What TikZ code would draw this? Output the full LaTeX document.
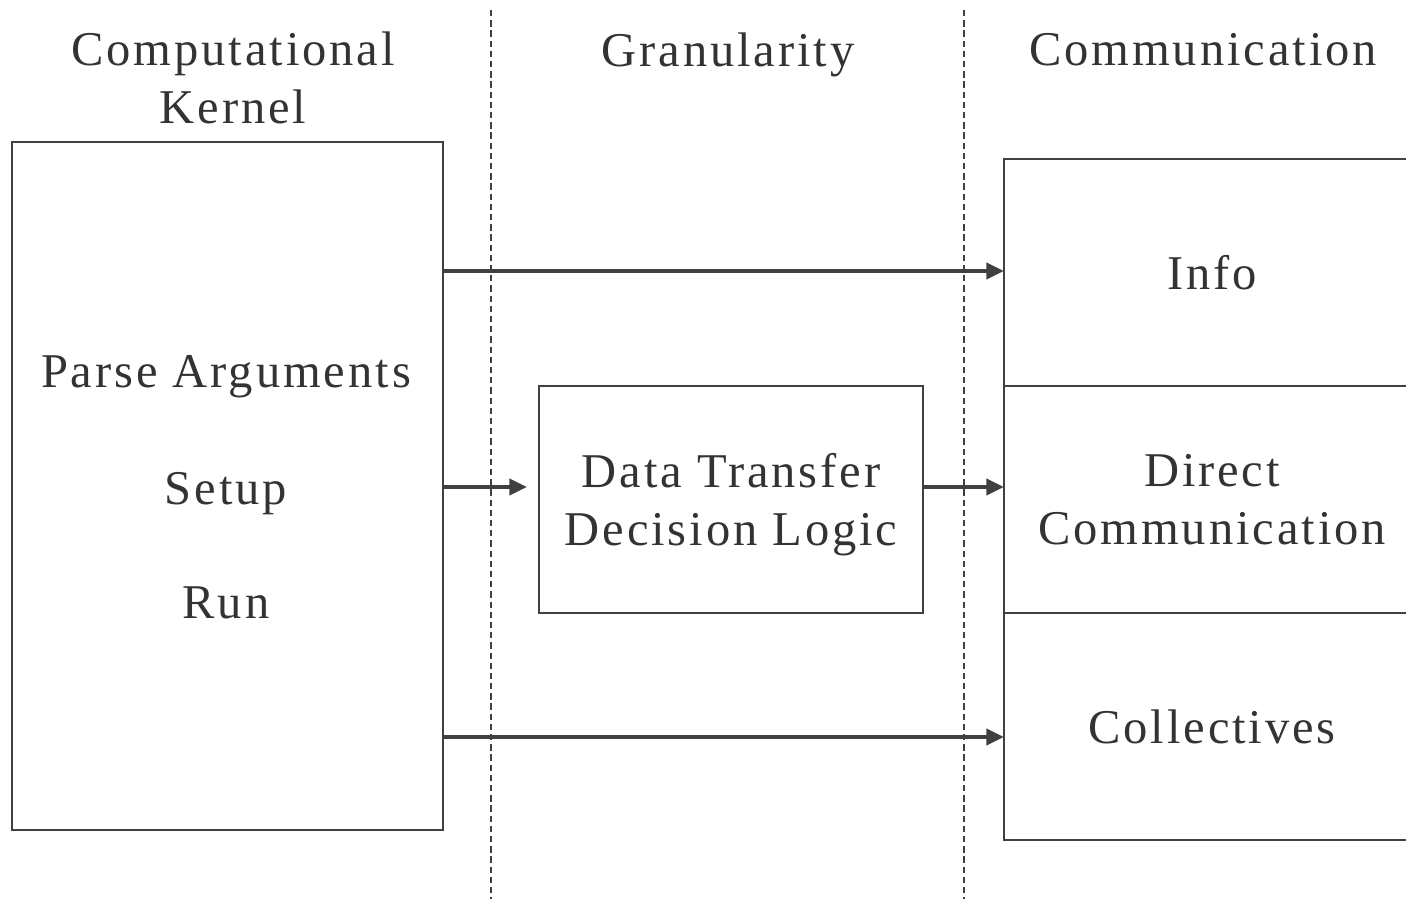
\documentclass[tikz,border=0pt]{standalone}
\usepackage{fontspec}
\setmainfont{Liberation Serif}[LetterSpace=6]
\usetikzlibrary{positioning,calc,arrows.meta}
\definecolor{ink}{HTML}{404040}
\definecolor{txt}{HTML}{333333}
\tikzset{
  box/.style={draw=ink, line width=0.6pt, text=txt, align=center, inner sep=0pt, outer sep=0pt},
  lbl/.style={text=txt, align=center, inner sep=0pt},
  arr/.style={draw=ink, line width=1pt, -{Triangle[length=5pt,width=4.6pt]}},
  sep/.style={draw=ink, line width=0.35pt, dash pattern=on 1.8pt off 1.1pt},
}
\begin{document}
\begin{tikzpicture}[x=0.01cm, y=-0.01cm, font=\fontsize{13.8}{16.3}\selectfont, line join=miter]
\def \colA{491}
\def \colB{964}
\useasboundingbox (0,0) rectangle (1406,899);
% column headings and separators
\node[lbl] (hkernel) at (233,78) {Computational\\Kernel};
\node[lbl] (hgran) at (728,55) {Granularity};
\node[lbl] (hcomm) at (1203,50) {Communication};
\draw[sep] (\colA,10) -- (\colA,899);
\draw[sep] (\colB,10) -- (\colB,899);
% kernel box
\node[box, minimum width=4.31cm, minimum height=6.88cm] (kernel) at (227.5,486) {};
\node[lbl] (parse) at (226,377) {Parse Arguments};
\node[lbl] (setup) at (226,494) {Setup};
\node[lbl] (run) at (226,603) {Run};
% decision box
\node[box, minimum width=3.84cm, minimum height=2.27cm, text depth=0pt] (logic) at (731,499.5) {Data Transfer\\Decision Logic};
% communication boxes, cut at the right edge
\begin{scope}
\clip (0,0) rectangle (1406,899);
\node[box, minimum width=4.16cm, minimum height=2.27cm] (info) at (1212,272.5) {Info};
\node[box, minimum width=4.16cm, minimum height=2.27cm, below=0pt of info] (direct) {Direct\\Communication};
\node[box, minimum width=4.16cm, minimum height=2.27cm, below=0pt of direct] (coll) {Collectives};
\end{scope}
% connectors
\coordinate (yinfo) at (0,271);
\coordinate (ymid) at (0,487);
\coordinate (ycoll) at (0,737);
\draw[arr] (kernel.east |- yinfo) -- (info.west |- yinfo);
\draw[arr] (kernel.east |- ymid) -- ($(logic.west |- ymid)+(-12,0)$);
\draw[arr] (logic.east |- ymid) -- (direct.west |- ymid);
\draw[arr] (kernel.east |- ycoll) -- (coll.west |- ycoll);
\end{tikzpicture}
\end{document}
